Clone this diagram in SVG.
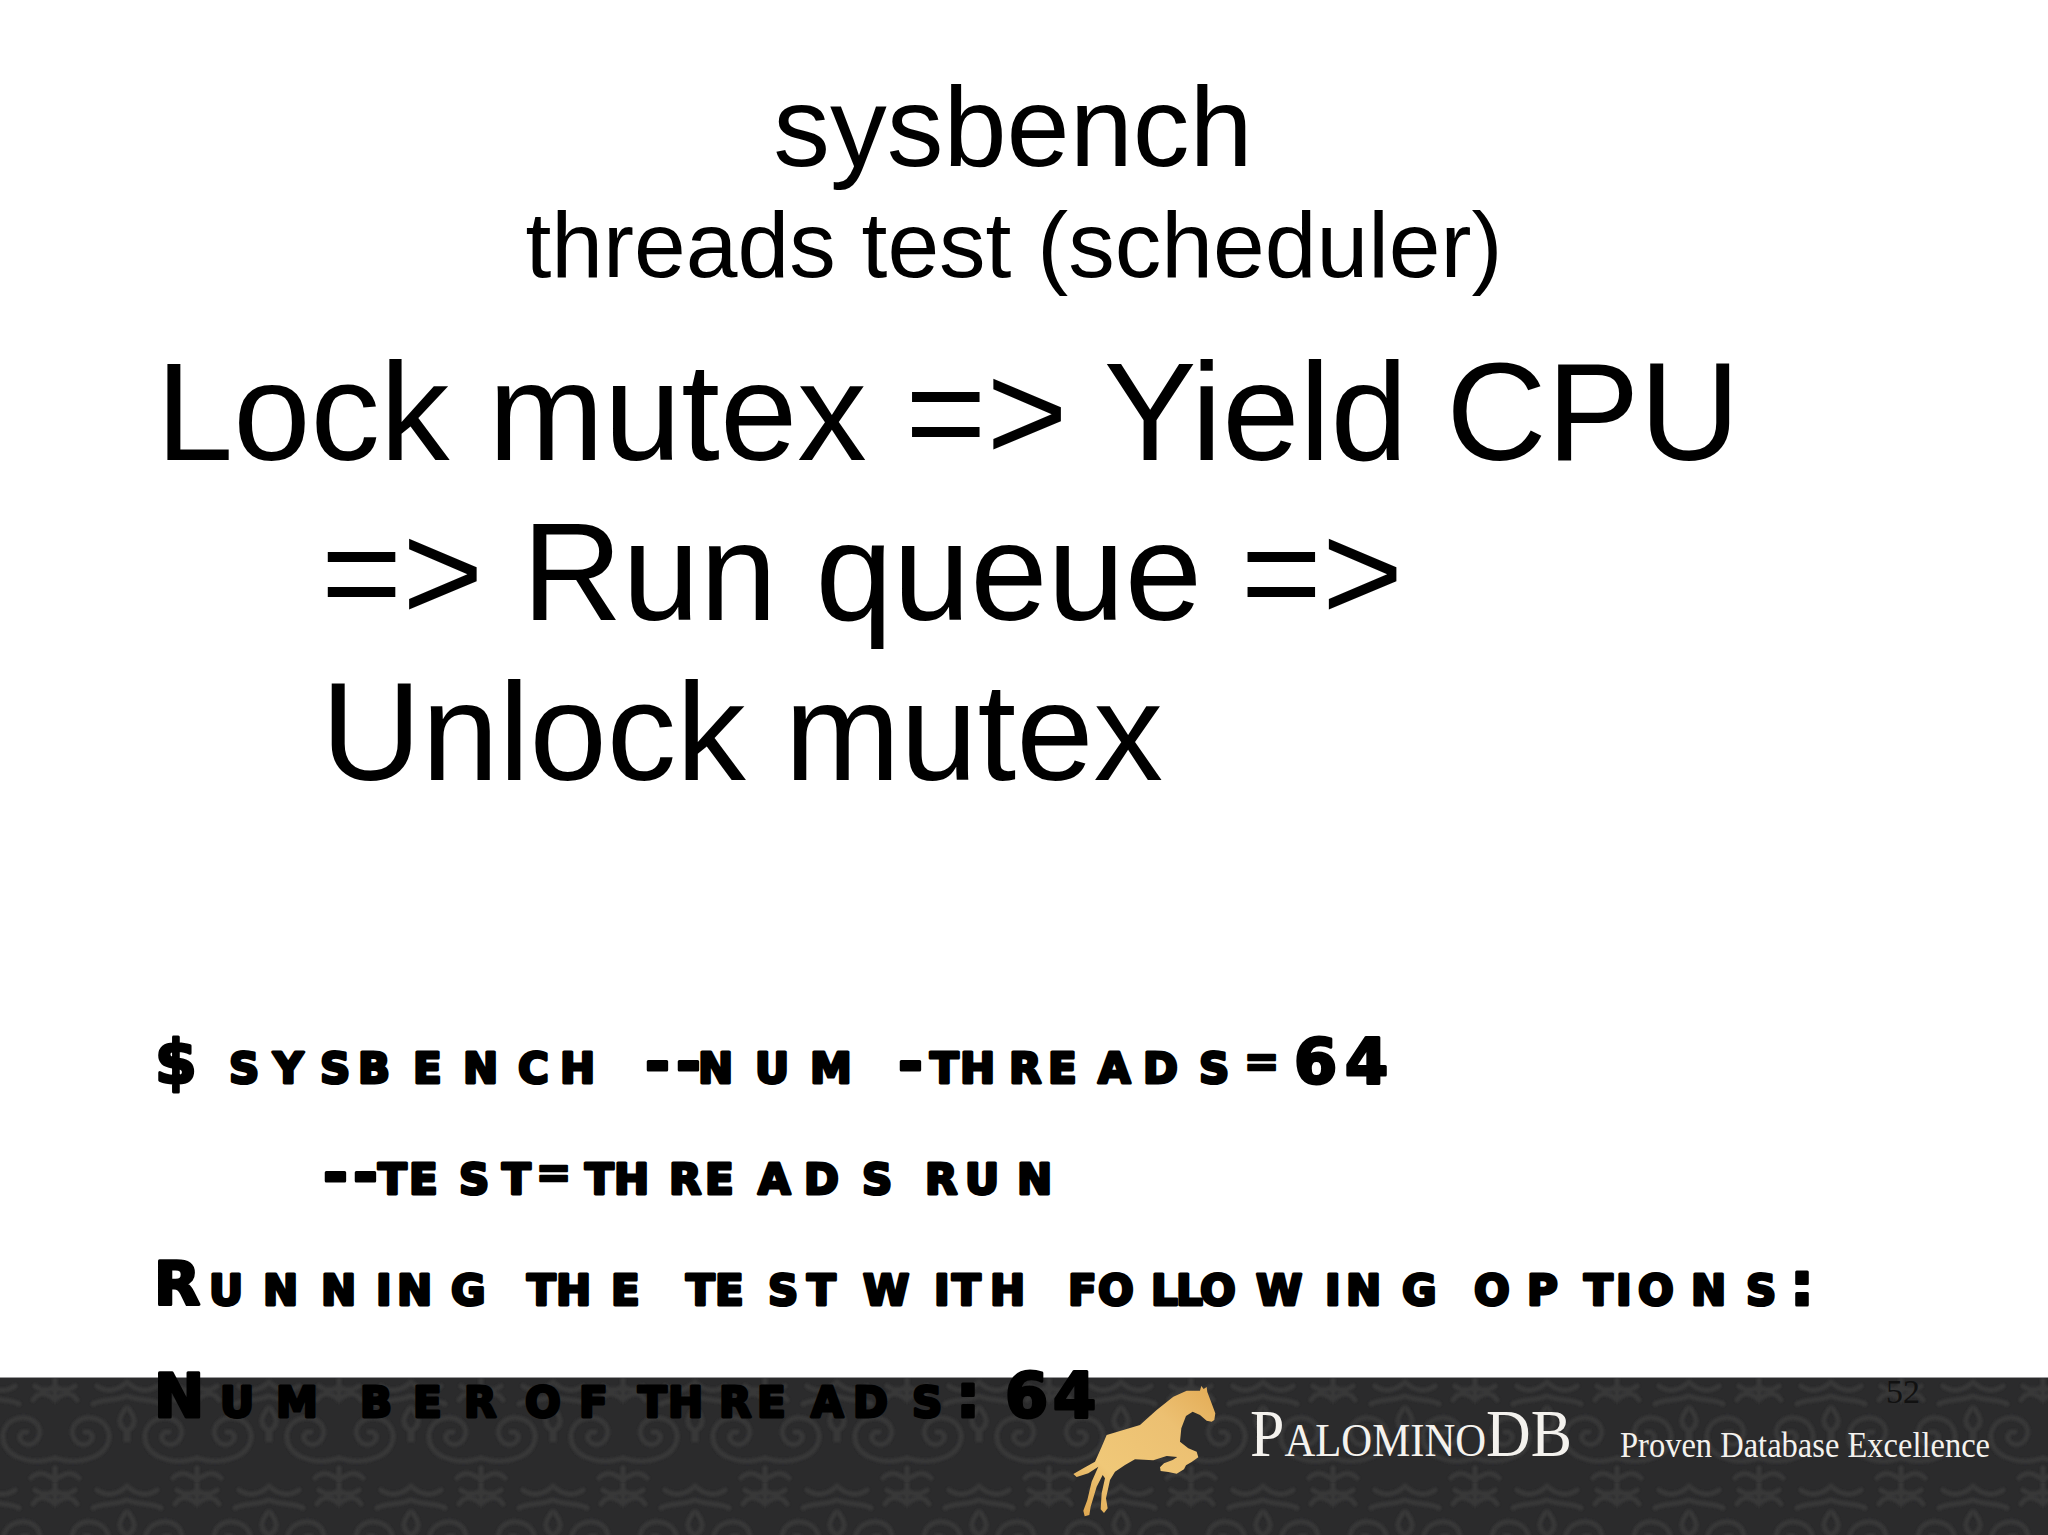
<svg xmlns="http://www.w3.org/2000/svg" width="2048" height="1535" viewBox="0 0 2048 1535">
<style>
.s{font-family:"Liberation Sans",Arial,sans-serif;fill:#000}
.c{font-family:"DejaVu Sans",sans-serif;font-weight:700;font-size:60px;font-variant:small-caps;fill:#000;stroke:#000;stroke-width:3;stroke-linejoin:round}
.e{font-size:42px;stroke-width:2.5}
.l{font-family:"Liberation Serif",serif;fill:#f4f2ee}
.m{fill:none;stroke:#383839;stroke-width:5;stroke-linecap:round}
</style>
<defs>
<filter id="soft" x="-5%" y="-5%" width="110%" height="110%"><feGaussianBlur stdDeviation="0.9"/></filter>
<linearGradient id="gold" x1="0" y1="1" x2="1" y2="0">
<stop offset="0" stop-color="#dca24a"/><stop offset=".3" stop-color="#f0c878"/><stop offset=".7" stop-color="#ecc072"/><stop offset="1" stop-color="#e3ab55"/>
</linearGradient>
<pattern id="damask" patternUnits="userSpaceOnUse" x="127" y="1378" width="142" height="104">
<rect width="142" height="104" fill="#2b2b2c"/>
<g filter="url(#soft)">
<path class="m" d="M70 80C48 88 20 80 18 60C17 42 38 34 50 44C60 53 52 70 40 66C32 63 34 52 42 54"/>
<path class="m" d="M70 80C92 88 122 80 124 60C125 42 104 34 92 44C82 53 90 70 102 66C110 63 108 52 100 54"/>
<path class="m" d="M141 52C133 48 133 40 141 30M1 52C9 48 9 40 1 30M141 52V62M1 52V62"/>
<path class="m" d="M70 2V22M48 22C54 12 64 16 70 22C76 16 86 12 92 22M50 8C58 14 64 12 68 10M90 8C82 14 76 12 72 10"/>
<path class="m" d="M0 4C10 14 22 14 30 8M142 4C132 14 120 14 112 8M0 18C14 24 24 20 34 26M142 18C128 24 118 20 108 26"/>
<path class="m" d="M70 104V90M46 100C54 92 62 96 70 102C78 96 86 92 94 100"/>
</g>
</pattern>
</defs>
<rect width="2048" height="1535" fill="#fff"/>
<g id="band">
<rect y="1378" width="2048" height="157" fill="url(#damask)"/>
<rect y="1377" width="2048" height="1" fill="#9a9a9c"/>
</g>
<g id="title">
<text class="s" x="1013" y="166" text-anchor="middle" font-size="113.5">sysbench</text>
<text class="s" x="1014" y="277" text-anchor="middle" font-size="93">threads test (scheduler)</text>
</g>
<g id="body">
<text class="s" x="156" y="460" font-size="139">Lock mutex =&gt; Yield CPU</text>
<text class="s" x="321" y="620" font-size="139">=&gt; Run queue =&gt;</text>
<text class="s" x="321" y="780" font-size="139">Unlock mutex</text>
</g>
<g id="console">
<text class="c" y="1083" x="155 200 229 273 320 358 413 463 518 560 610 645 676 698 755 810 898 930 960 1009 1048 1098 1143 1199 1244 1294 1345">$ sysbench --num-threads<tspan class="e" dy="-7">=</tspan><tspan dy="7" font-size="62">64</tspan></text>
<text class="c" y="1194" x="323 353 378 409 459 502 536 585 614 669 705 758 804 862 905 925 965 1017">--test<tspan class="e" dy="-7">=</tspan><tspan dy="7">threads run</tspan></text>
<text class="c" y="1305" x="154 209 263 321 376 397 451 510 527 556 611 670 686 715 768 807 850 863 934 952 990 1050 1068 1098 1151 1176 1200 1256 1325 1346 1402 1460 1474 1527 1584 1616 1638 1691 1746 1790">Running the test with following options:</text>
<text class="c" y="1417" x="154 220 276 360 413 464 515 525 579 625 638 668 719 757 811 853 912 956 990 1005 1053">Number of threads: <tspan font-size="62">64</tspan></text>
</g>
<g id="logo">
<path transform="translate(1060 1380) scale(.3333)" fill="url(#gold)" d="M420 32L424 18L431 27L440 21L442 36L452 62L466 100L463 120L455 125L440 122L420 105L398 95L378 108L364 145L360 185L385 205L410 215L415 232L395 246L378 256L372 268L350 281L325 276L302 273L300 262L312 250L338 240L352 231L320 228L280 241L225 238L195 255L165 275L150 300L138 355L143 385L132 399L122 388L125 340L135 295L128 285L110 320L92 380L88 405L74 409L70 392L82 360L95 305L115 260L85 280L50 291L40 282L70 265L105 245L125 200L140 165L190 150L240 135L290 90L340 50L380 32Z"/>
<text class="l" x="1250" y="1456" font-size="68" textLength="322" lengthAdjust="spacingAndGlyphs">P<tspan font-size="47">ALOMINO</tspan>DB</text>
<text class="l" x="1620" y="1457" font-size="35" textLength="370" lengthAdjust="spacingAndGlyphs">Proven Database Excellence</text>
</g>
<text id="page" x="1903" y="1403" text-anchor="middle" font-family="Liberation Serif,serif" font-size="34" fill="#111">52</text>
</svg>
